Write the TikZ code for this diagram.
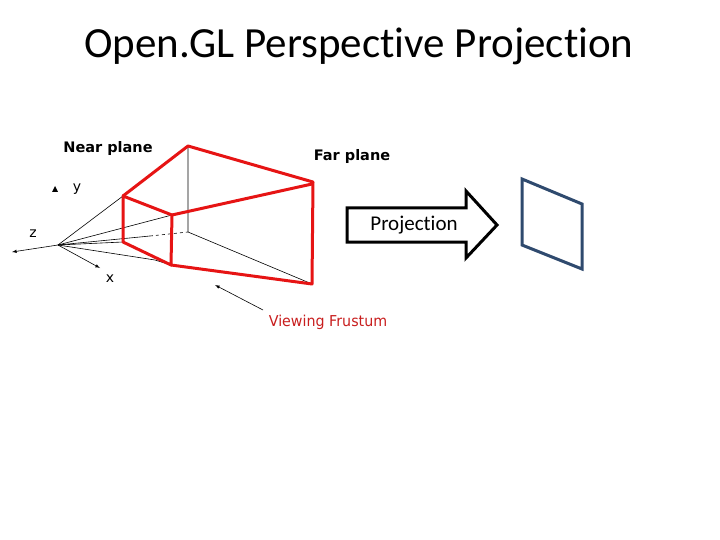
\documentclass[tikz,border=0pt]{standalone}
\usepackage{fontspec}
\setmainfont[Ligatures={NoCommon}]{Carlito}
\newfontfamily\lbl{DejaVu Sans}
\begin{document}
\begin{tikzpicture}[x=1pt,y=-1pt,
  red/.style={draw={rgb,255:red,230;green,20;blue,20},line width=3pt,line join=round},
  thin/.style={draw=black,line width=0.6pt},
  lab/.style={font=\lbl\fontsize{14.5}{16}\selectfont\bfseries,inner sep=0},
  ax/.style={font=\lbl\fontsize{14}{16}\selectfont,inner sep=0}]
\useasboundingbox (0,0) rectangle (720,540);
\node[font=\fontsize{43}{48}\selectfont] (title) at (359,46) {Open.GL Perspective Projection};
\coordinate (E) at (58,245);
\coordinate (NTL) at (123,196);\coordinate (NTR) at (172,215);
\coordinate (NBR) at (171,265);\coordinate (NBL) at (123,242);
\coordinate (FTL) at (188,146);\coordinate (FTR) at (313,182);
\coordinate (FBR) at (312,284);\coordinate (FBL) at (188,232);
% thin lines
\draw[thin] (E)--(NTL);
\draw[thin] (E)--(NTR);
\draw[thin] (E)--(NBL);
\draw[thin] (E)--(155,260)--(NBR);
\draw[thin] (E)--(150,236);
\draw[thin,dashed] (150,236)--(FBL);
\draw[thin] (FTL)--(FBL)--(FBR);
% axes
\coordinate (zt) at (12,252);\coordinate (xt) at (100,268);
\draw[thin,-latex] (E)--(zt);
\draw[thin,-latex] (E)--(xt);
\fill (52,192)--(58,192)--(55,186)--cycle;
\node[ax] (y) at (77,189) {y};
\node[ax] (z) at (33,234) {z};
\node[ax] (x) at (110,279) {x};
% red
\draw[red] (NTL)--(NTR)--(NBR)--(NBL)--cycle;
\draw[red] (NTL)--(FTL)--(FTR)--(FBR)--(NBR);
\draw[red] (NTR)--(312,184);
\node[lab] (near) at (108,149) {Near plane};
\node[lab] (far) at (352,157) {Far plane};
\node[font=\lbl\fontsize{15}{16}\selectfont,xscale=0.95,text={rgb,255:red,200;green,30;blue,30},inner sep=0] (vf) at (328,322) {Viewing Frustum};
\coordinate (vfa) at (215,285);
\draw[thin,-latex] (263,310)--(vfa);
% projection arrow
\draw[line width=3pt,line join=miter,fill=white] (347,208)--(466,208)--(466,191)--(497,225)--(466,258)--(466,242)--(347,242)--cycle;
\node[font=\fontsize{21}{24}\selectfont] (proj) at (414,225) {Projection};
\draw[draw={rgb,255:red,47;green,74;blue,110},line width=3pt] (522,179)--(582,204)--(582,269)--(522,245)--cycle;
\end{tikzpicture}
\end{document}
